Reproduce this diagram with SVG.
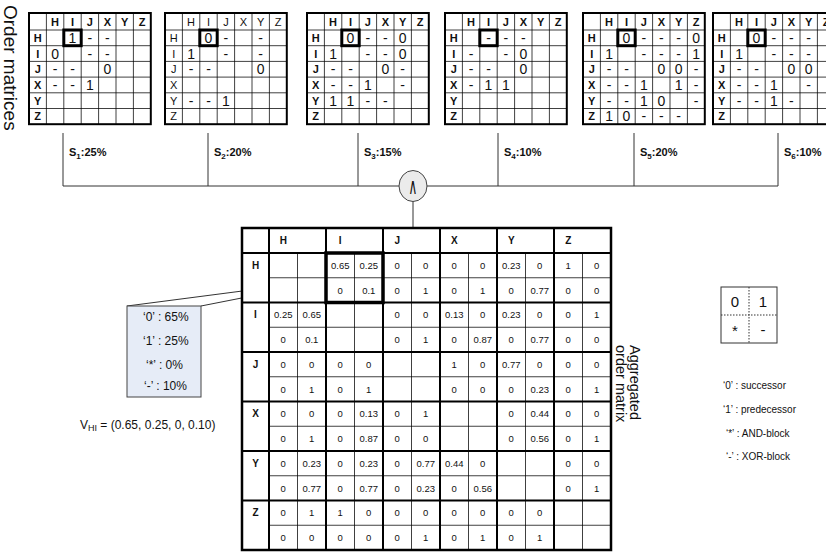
<svg xmlns="http://www.w3.org/2000/svg" width="826" height="552" viewBox="0 0 826 552">
<style>
text{font-family:"Liberation Sans",Arial,sans-serif;fill:#111}
.mh{font-size:11px;text-anchor:middle;dominant-baseline:central}
.mv text{font-size:14px;text-anchor:middle;dominant-baseline:central}
.thin{stroke:#000;stroke-width:0.75;fill:none}
.thick{stroke:#000;stroke-width:2;fill:none}
.sel{stroke:#000;stroke-width:3;fill:none}
.bv text{font-size:9.5px;text-anchor:middle;dominant-baseline:central}
.bh{font-size:10px;font-weight:bold;text-anchor:middle;dominant-baseline:central}
.lbl{font-size:11px;font-weight:bold}
.sub{font-size:8px}
.conn{stroke:#333;stroke-width:1;fill:none}
.cal{font-size:12px}
.leg{font-size:10px}
.big{font-size:19px}
.agt{font-size:14.5px}
.hb{font-weight:bold}
.hn{font-weight:normal}
</style>
<defs>
<g id="grid">
<rect width="121.8" height="111.2" fill="#fff"/>
<path class="thin" d="M17.4 0V111.2M34.8 0V111.2M52.2 0V111.2M69.6 0V111.2M87 0V111.2M104.4 0V111.2M0 17H121.8M0 32.7H121.8M0 48.4H121.8M0 64.1H121.8M0 79.8H121.8M0 95.5H121.8"/>
<rect class="thick" width="121.8" height="111.2"/>
<g class="mh">
<text x="26.1" y="8.7">H</text><text x="43.5" y="8.7">I</text><text x="60.9" y="8.7">J</text><text x="78.3" y="8.7">X</text><text x="95.7" y="8.7">Y</text><text x="113.1" y="8.7">Z</text>
<text x="8.7" y="24.85">H</text><text x="8.7" y="40.55">I</text><text x="8.7" y="56.25">J</text><text x="8.7" y="71.95">X</text><text x="8.7" y="87.65">Y</text><text x="8.7" y="103.35">Z</text>
</g>
<rect class="sel" x="34.8" y="17" width="17.4" height="15.7"/>
</g>
</defs>
<rect width="826" height="552" fill="#fff"/>

<text class="big" transform="translate(4,5) rotate(90)">Order matrices</text>

<g id="m1" transform="translate(29,13)"><use href="#grid" class="hb"/><g class="mv">
<g transform="translate(0,24.85)"><text x="43.5">1</text><text x="60.9">-</text><text x="78.3">-</text></g>
<g transform="translate(0,40.55)"><text x="26.1">0</text><text x="60.9">-</text><text x="78.3">-</text></g>
<g transform="translate(0,56.25)"><text x="26.1">-</text><text x="43.5">-</text><text x="78.3">0</text></g>
<g transform="translate(0,71.95)"><text x="26.1">-</text><text x="43.5">-</text><text x="60.9">1</text></g>
</g></g>

<g id="m2" transform="translate(165,13)"><use href="#grid" class="hn"/><g class="mv">
<g transform="translate(0,24.85)"><text x="43.5">0</text><text x="60.9">-</text><text x="95.7">-</text></g>
<g transform="translate(0,40.55)"><text x="26.1">1</text><text x="60.9">-</text><text x="95.7">-</text></g>
<g transform="translate(0,56.25)"><text x="26.1">-</text><text x="43.5">-</text><text x="95.7">0</text></g>
<g transform="translate(0,87.65)"><text x="26.1">-</text><text x="43.5">-</text><text x="60.9">1</text></g>
</g></g>

<g id="m3" transform="translate(307,13)"><use href="#grid" class="hb"/><g class="mv">
<g transform="translate(0,24.85)"><text x="43.5">0</text><text x="60.9">-</text><text x="78.3">-</text><text x="95.7">0</text></g>
<g transform="translate(0,40.55)"><text x="26.1">1</text><text x="60.9">-</text><text x="78.3">-</text><text x="95.7">0</text></g>
<g transform="translate(0,56.25)"><text x="26.1">-</text><text x="43.5">-</text><text x="78.3">0</text><text x="95.7">-</text></g>
<g transform="translate(0,71.95)"><text x="26.1">-</text><text x="43.5">-</text><text x="60.9">1</text><text x="95.7">-</text></g>
<g transform="translate(0,87.65)"><text x="26.1">1</text><text x="43.5">1</text><text x="60.9">-</text><text x="78.3">-</text></g>
</g></g>

<g id="m4" transform="translate(445,13)"><use href="#grid" class="hb"/><g class="mv">
<g transform="translate(0,24.85)"><text x="43.5">-</text><text x="60.9">-</text><text x="78.3">-</text></g>
<g transform="translate(0,40.55)"><text x="26.1">-</text><text x="60.9">-</text><text x="78.3">0</text></g>
<g transform="translate(0,56.25)"><text x="26.1">-</text><text x="43.5">-</text><text x="78.3">0</text></g>
<g transform="translate(0,71.95)"><text x="26.1">-</text><text x="43.5">1</text><text x="60.9">1</text></g>
</g></g>

<g id="m5" transform="translate(583,13)"><use href="#grid" class="hb"/><g class="mv">
<g transform="translate(0,24.85)"><text x="43.5">0</text><text x="60.9">-</text><text x="78.3">-</text><text x="95.7">-</text><text x="113.1">0</text></g>
<g transform="translate(0,40.55)"><text x="26.1">1</text><text x="60.9">-</text><text x="78.3">-</text><text x="95.7">-</text><text x="113.1">1</text></g>
<g transform="translate(0,56.25)"><text x="26.1">-</text><text x="43.5">-</text><text x="78.3">0</text><text x="95.7">0</text><text x="113.1">-</text></g>
<g transform="translate(0,71.95)"><text x="26.1">-</text><text x="43.5">-</text><text x="60.9">1</text><text x="95.7">1</text><text x="113.1">-</text></g>
<g transform="translate(0,87.65)"><text x="26.1">-</text><text x="43.5">-</text><text x="60.9">1</text><text x="78.3">0</text><text x="113.1">-</text></g>
<g transform="translate(0,103.35)"><text x="26.1">1</text><text x="43.5">0</text><text x="60.9">-</text><text x="78.3">-</text><text x="95.7">-</text></g>
</g></g>

<g id="m6" transform="translate(713,13)"><use href="#grid" class="hb"/><g class="mv">
<g transform="translate(0,24.85)"><text x="43.5">0</text><text x="60.9">-</text><text x="78.3">-</text><text x="95.7">-</text></g>
<g transform="translate(0,40.55)"><text x="26.1">1</text><text x="60.9">-</text><text x="78.3">-</text><text x="95.7">-</text></g>
<g transform="translate(0,56.25)"><text x="26.1">-</text><text x="43.5">-</text><text x="78.3">0</text><text x="95.7">0</text></g>
<g transform="translate(0,71.95)"><text x="26.1">-</text><text x="43.5">-</text><text x="60.9">1</text><text x="95.7">-</text></g>
<g transform="translate(0,87.65)"><text x="26.1">-</text><text x="43.5">-</text><text x="60.9">1</text><text x="78.3">-</text></g>
</g></g>

<g id="connectors" class="conn">
<path d="M63 133V186M208 133V186M358 133V186M498 133V186M634 133V186M778 133V186M63 186H778M413 201V228"/>
<path d="M127 306L350 277M201 306L323 282"/>
</g>

<g id="weights" class="lbl">
<text x="69" y="156">S<tspan class="sub" dy="2.5">1</tspan><tspan dy="-2.5">:25%</tspan></text>
<text x="214" y="156">S<tspan class="sub" dy="2.5">2</tspan><tspan dy="-2.5">:20%</tspan></text>
<text x="364" y="156">S<tspan class="sub" dy="2.5">3</tspan><tspan dy="-2.5">:15%</tspan></text>
<text x="504" y="156">S<tspan class="sub" dy="2.5">4</tspan><tspan dy="-2.5">:10%</tspan></text>
<text x="640" y="156">S<tspan class="sub" dy="2.5">5</tspan><tspan dy="-2.5">:20%</tspan></text>
<text x="784" y="156">S<tspan class="sub" dy="2.5">6</tspan><tspan dy="-2.5">:10%</tspan></text>
</g>

<g id="and">
<ellipse cx="413" cy="186" rx="14" ry="15.5" fill="#ebebeb" stroke="#444"/>
<text transform="translate(413,186) scale(0.8,1.5)" style="font-family:'DejaVu Sans',sans-serif;font-size:15px;text-anchor:middle;dominant-baseline:central">∧</text>
</g>

<g id="agg">
<rect x="242" y="228" width="369" height="322" fill="#fff"/>
<path class="thin" d="M297.5 253V550M354.5 253V550M411.5 253V550M468.5 253V550M525.5 253V550M582.5 253V550M269 277.75H611M269 327.25H611M269 376.75H611M269 426.25H611M269 475.75H611M269 525.25H611"/>
<path class="thick" d="M269 228V550M326 228V550M383 228V550M440 228V550M497 228V550M554 228V550M242 253H611M242 302.5H611M242 352H611M242 401.5H611M242 451H611M242 500.5H611"/>
<rect x="242" y="228" width="369" height="322" fill="none" stroke="#000" stroke-width="2.5"/>
<rect x="326" y="253" width="57" height="49.5" fill="none" stroke="#000" stroke-width="3.5"/>
<g class="bh">
<text x="283.25" y="240.5">H</text><text x="340.25" y="240.5">I</text><text x="397.25" y="240.5">J</text><text x="454.25" y="240.5">X</text><text x="511.25" y="240.5">Y</text><text x="568.25" y="240.5">Z</text>
<text x="255.5" y="265.4">H</text><text x="255.5" y="314.9">I</text><text x="255.5" y="364.4">J</text><text x="255.5" y="413.9">X</text><text x="255.5" y="463.4">Y</text><text x="255.5" y="512.9">Z</text>
</g>
<g class="bv">
<g transform="translate(0,265.4)"><text x="340.25">0.65</text><text x="368.75">0.25</text><text x="397.25">0</text><text x="425.75">0</text><text x="454.25">0</text><text x="482.75">0</text><text x="511.25">0.23</text><text x="539.75">0</text><text x="568.25">1</text><text x="596.75">0</text></g>
<g transform="translate(0,290.1)"><text x="340.25">0</text><text x="368.75">0.1</text><text x="397.25">0</text><text x="425.75">1</text><text x="454.25">0</text><text x="482.75">1</text><text x="511.25">0</text><text x="539.75">0.77</text><text x="568.25">0</text><text x="596.75">0</text></g>
<g transform="translate(0,314.9)"><text x="283.25">0.25</text><text x="311.75">0.65</text><text x="397.25">0</text><text x="425.75">0</text><text x="454.25">0.13</text><text x="482.75">0</text><text x="511.25">0.23</text><text x="539.75">0</text><text x="568.25">0</text><text x="596.75">1</text></g>
<g transform="translate(0,339.6)"><text x="283.25">0</text><text x="311.75">0.1</text><text x="397.25">0</text><text x="425.75">1</text><text x="454.25">0</text><text x="482.75">0.87</text><text x="511.25">0</text><text x="539.75">0.77</text><text x="568.25">0</text><text x="596.75">0</text></g>
<g transform="translate(0,364.4)"><text x="283.25">0</text><text x="311.75">0</text><text x="340.25">0</text><text x="368.75">0</text><text x="454.25">1</text><text x="482.75">0</text><text x="511.25">0.77</text><text x="539.75">0</text><text x="568.25">0</text><text x="596.75">0</text></g>
<g transform="translate(0,389.1)"><text x="283.25">0</text><text x="311.75">1</text><text x="340.25">0</text><text x="368.75">1</text><text x="454.25">0</text><text x="482.75">0</text><text x="511.25">0</text><text x="539.75">0.23</text><text x="568.25">0</text><text x="596.75">1</text></g>
<g transform="translate(0,413.9)"><text x="283.25">0</text><text x="311.75">0</text><text x="340.25">0</text><text x="368.75">0.13</text><text x="397.25">0</text><text x="425.75">1</text><text x="511.25">0</text><text x="539.75">0.44</text><text x="568.25">0</text><text x="596.75">0</text></g>
<g transform="translate(0,438.6)"><text x="283.25">0</text><text x="311.75">1</text><text x="340.25">0</text><text x="368.75">0.87</text><text x="397.25">0</text><text x="425.75">0</text><text x="511.25">0</text><text x="539.75">0.56</text><text x="568.25">0</text><text x="596.75">1</text></g>
<g transform="translate(0,463.4)"><text x="283.25">0</text><text x="311.75">0.23</text><text x="340.25">0</text><text x="368.75">0.23</text><text x="397.25">0</text><text x="425.75">0.77</text><text x="454.25">0.44</text><text x="482.75">0</text><text x="568.25">0</text><text x="596.75">0</text></g>
<g transform="translate(0,488.1)"><text x="283.25">0</text><text x="311.75">0.77</text><text x="340.25">0</text><text x="368.75">0.77</text><text x="397.25">0</text><text x="425.75">0.23</text><text x="454.25">0</text><text x="482.75">0.56</text><text x="568.25">0</text><text x="596.75">1</text></g>
<g transform="translate(0,512.9)"><text x="283.25">0</text><text x="311.75">1</text><text x="340.25">1</text><text x="368.75">0</text><text x="397.25">0</text><text x="425.75">0</text><text x="454.25">0</text><text x="482.75">0</text><text x="511.25">0</text><text x="539.75">0</text></g>
<g transform="translate(0,537.6)"><text x="283.25">0</text><text x="311.75">0</text><text x="340.25">0</text><text x="368.75">0</text><text x="397.25">0</text><text x="425.75">1</text><text x="454.25">0</text><text x="482.75">1</text><text x="511.25">0</text><text x="539.75">1</text></g>
</g>
</g>

<g id="callout">
<rect x="127" y="306" width="74" height="91" fill="#e6ecf7" stroke="#444"/>
<text class="cal" x="143" y="321">‘0’ : 65%</text>
<text class="cal" x="143" y="345">‘1’ : 25%</text>
<text class="cal" x="146" y="369">‘*’ : 0%</text>
<text class="cal" x="144" y="390">‘-’ : 10%</text>
</g>

<text id="vhi" class="cal" x="80" y="429">V<tspan style="font-size:9px" dy="1.5">HI</tspan><tspan dy="-1.5"> = (0.65, 0.25, 0, 0.10)</tspan></text>

<g id="agglabel">
<text class="agt" transform="translate(630,345) rotate(90)">Aggregated</text>
<text class="agt" transform="translate(616,345) rotate(90)">order matrix</text>
</g>

<g id="legend">
<rect x="721" y="287" width="56" height="56" fill="#fff" stroke="#333"/>
<path d="M749 287V343M721 315H777" stroke="#333" stroke-dasharray="1.5 1.5"/>
<g style="font-size:15px;text-anchor:middle;dominant-baseline:central">
<text x="735" y="301">0</text><text x="763" y="301">1</text><text x="735" y="330">*</text><text x="763" y="329">-</text>
</g>
<text class="leg" x="723" y="389">‘0’ : successor</text>
<text class="leg" x="723" y="413">‘1’ : predecessor</text>
<text class="leg" x="726" y="437">‘*’ : AND-block</text>
<text class="leg" x="726" y="460">‘-’ : XOR-block</text>
</g>
</svg>
